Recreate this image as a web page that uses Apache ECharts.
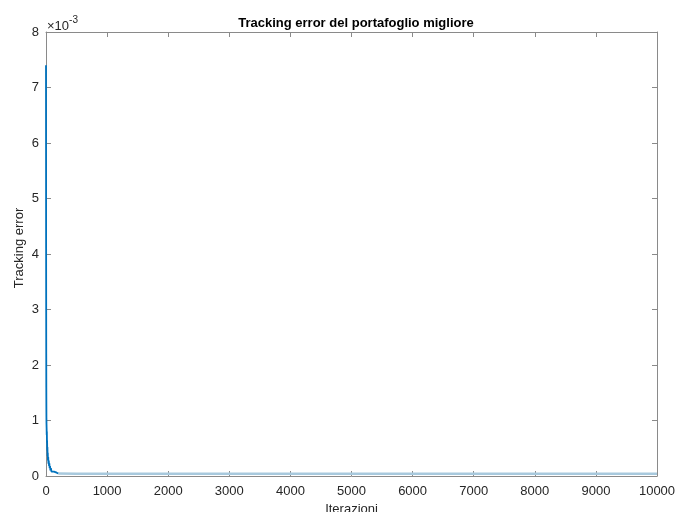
<!DOCTYPE html>
<html>
<head>
<meta charset="utf-8">
<script src="https://cdn.jsdelivr.net/npm/echarts@6/dist/echarts.min.js"></script>
<style>
  html, body { margin: 0; padding: 0; background: #fff; }
  #chart { width: 676px; height: 512px; }
</style>
</head>
<body>
<div id="chart"></div>
<script>
// Tracking error of the best portfolio across the optimisation iterations
const earlyIter = [0, 1, 2, 3, 4, 5, 6, 7, 8, 10, 12, 14, 16, 18, 20, 23, 26, 29, 32, 36, 40, 45, 50, 55, 60, 66, 72, 80, 90, 100, 115, 130, 150, 175, 200];
const earlyErr = [7.4e-3, 5.6e-3, 4.1e-3, 3.0e-3, 2.2e-3, 1.6e-3, 1.25e-3, 1.05e-3, 0.95e-3, 0.86e-3, 0.74e-3, 0.8e-3, 0.6e-3, 0.64e-3, 0.46e-3, 0.52e-3, 0.36e-3, 0.42e-3, 0.28e-3, 0.34e-3, 0.22e-3, 0.28e-3, 0.18e-3, 0.23e-3, 0.14e-3, 0.18e-3, 0.1e-3, 0.14e-3, 0.08e-3, 0.11e-3, 0.06e-3, 0.08e-3, 0.05e-3, 0.06e-3, 0.045e-3];
const tailIter = [200, 500, 1000, 2000, 3000, 4000, 5000, 6000, 7000, 8000, 9000, 10000];
const tailErr = [0.045e-3, 0.042e-3, 0.04e-3, 0.04e-3, 0.04e-3, 0.04e-3, 0.04e-3, 0.04e-3, 0.04e-3, 0.04e-3, 0.04e-3, 0.04e-3];
const xTicks = [0, 1000, 2000, 3000, 4000, 5000, 6000, 7000, 8000, 9000, 10000];
const yTicks = [0, 1, 2, 3, 4, 5, 6, 7, 8];

const FONT = '"Liberation Sans", Arial, Helvetica, sans-serif';
const AXIS_COLOR = '#8a8a8a';
const TEXT_COLOR = '#262626';

const pairs = (xs, ys) => xs.map((x, i) => [x, ys[i]]);

const chart = echarts.init(document.getElementById('chart'), null, { renderer: 'canvas' });

const baseX = {
  type: 'value',
  min: xTicks[0],
  max: xTicks[xTicks.length - 1],
  interval: 1000,
  axisLine: { show: true, onZero: false, lineStyle: { color: AXIS_COLOR, width: 1 } },
  axisTick: { show: true, inside: true, length: 5, lineStyle: { color: AXIS_COLOR } },
  splitLine: { show: false }
};
const baseY = {
  type: 'value',
  min: 0,
  max: yTicks[yTicks.length - 1] * 1e-3,
  interval: 1e-3,
  axisLine: { show: true, onZero: false, lineStyle: { color: AXIS_COLOR, width: 1 } },
  axisTick: { show: true, inside: true, length: 5, lineStyle: { color: AXIS_COLOR } },
  splitLine: { show: false }
};

chart.setOption({
  animation: false,
  backgroundColor: '#ffffff',
  title: {
    text: 'Tracking error del portafoglio migliore',
    left: 351, top: 12, textAlign: 'center',
    textStyle: { fontFamily: FONT, fontSize: 13, fontWeight: 'bold', color: '#000' }
  },
  grid: { left: 46, right: 19, top: 32, bottom: 36, containLabel: false, outerBoundsMode: 'none' },
  xAxis: [
    Object.assign({}, baseX, {
      position: 'bottom',
      name: 'Iterazioni', nameLocation: 'middle', nameGap: 23,
      nameTextStyle: { fontFamily: FONT, fontSize: 13, color: TEXT_COLOR },
      axisLabel: { show: true, margin: 9, fontFamily: FONT, fontSize: 13, color: TEXT_COLOR,
        formatter: v => String(v) }
    }),
    Object.assign({}, baseX, { position: 'top', axisLabel: { show: false } })
  ],
  yAxis: [
    Object.assign({}, baseY, {
      position: 'left',
      axisLabel: {
        show: true, margin: 7, fontFamily: FONT, fontSize: 13, color: TEXT_COLOR,
        formatter: v => String(Math.round(v * 1000))
      }
    }),
    Object.assign({}, baseY, { position: 'right', axisLabel: { show: false } })
  ],
  graphic: [
    {
      type: 'text', rotation: Math.PI / 2, position: [19, 248],
      style: { text: 'Tracking error', fontFamily: FONT, fontSize: 13, fill: TEXT_COLOR,
        textAlign: 'center', textVerticalAlign: 'middle' }
    },
    {
      type: 'text', position: [47, 15],
      style: {
        text: '{a|×10}{b|-3}',
        rich: {
          a: { fontFamily: FONT, fontSize: 13, fill: TEXT_COLOR, verticalAlign: 'bottom' },
          b: { fontFamily: FONT, fontSize: 10, fill: TEXT_COLOR, verticalAlign: 'top', padding: [0, 0, 8, 0] }
        }
      }
    }
  ],
  series: [
    {
      type: 'line', xAxisIndex: 0, yAxisIndex: 0,
      data: pairs(tailIter, tailErr),
      showSymbol: false, symbol: 'none',
      lineStyle: { color: '#a8c9dd', width: 2.5 }
    },
    {
      type: 'line', xAxisIndex: 0, yAxisIndex: 0,
      data: pairs(earlyIter, earlyErr),
      showSymbol: false, symbol: 'none',
      lineStyle: { color: '#0072BD', width: 1.8 }
    }
  ]
});
</script>
</body>
</html>
